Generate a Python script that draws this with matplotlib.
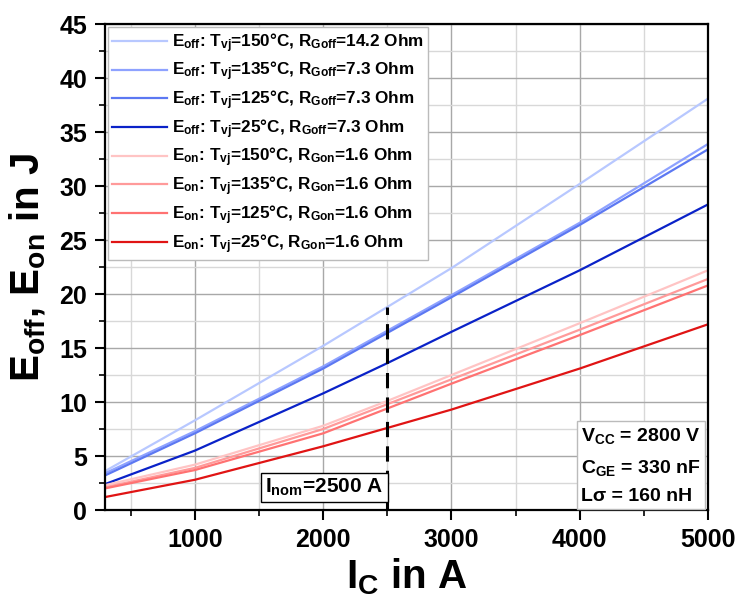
import matplotlib
matplotlib.use("Agg")
import matplotlib.pyplot as plt
from matplotlib.ticker import MultipleLocator

plt.rcParams['font.family'] = ['Liberation Sans', 'DejaVu Sans']
plt.rcParams['font.weight'] = 'bold'
plt.rcParams['axes.labelweight'] = 'bold'
plt.rcParams['mathtext.fontset'] = 'custom'
plt.rcParams['mathtext.rm'] = 'Liberation Sans:bold'
plt.rcParams['mathtext.bf'] = 'Liberation Sans:bold'
plt.rcParams['mathtext.it'] = 'Liberation Sans:bold'

# collector current in A
current = [300, 1000, 2000, 2500, 3000, 4000, 5000]

# switching energies in J
eoff_150 = [3.6, 8.3, 15.2, 18.8, 22.4, 30.2, 38.1]
eoff_135 = [3.4, 7.3, 13.3, 16.6, 19.9, 26.6, 33.9]
eoff_125 = [3.2, 7.1, 13.1, 16.4, 19.7, 26.4, 33.4]
eoff_25 = [2.4, 5.5, 10.8, 13.6, 16.5, 22.2, 28.3]
eon_150 = [2.3, 4.2, 7.8, 10.1, 12.5, 17.3, 22.2]
eon_135 = [2.1, 3.9, 7.5, 9.8, 12.1, 16.7, 21.4]
eon_125 = [2.0, 3.7, 7.1, 9.4, 11.7, 16.2, 20.8]
eon_25 = [1.2, 2.8, 5.9, 7.6, 9.3, 13.1, 17.2]

i_nom = 2500
e_at_nom = 18.8

series = [
    (eoff_150, '#b8c8ff', r'E$_{\mathbf{off}}$: T$_{\mathbf{vj}}$=150°C, R$_{\mathbf{Goff}}$=14.2 Ohm'),
    (eoff_135, '#8ea2ff', r'E$_{\mathbf{off}}$: T$_{\mathbf{vj}}$=135°C, R$_{\mathbf{Goff}}$=7.3 Ohm'),
    (eoff_125, '#5c78f2', r'E$_{\mathbf{off}}$: T$_{\mathbf{vj}}$=125°C, R$_{\mathbf{Goff}}$=7.3 Ohm'),
    (eoff_25, '#0a22c8', r'E$_{\mathbf{off}}$: T$_{\mathbf{vj}}$=25°C, R$_{\mathbf{Goff}}$=7.3 Ohm'),
    (eon_150, '#ffc4c4', r'E$_{\mathbf{on}}$: T$_{\mathbf{vj}}$=150°C, R$_{\mathbf{Gon}}$=1.6 Ohm'),
    (eon_135, '#ff9a9a', r'E$_{\mathbf{on}}$: T$_{\mathbf{vj}}$=135°C, R$_{\mathbf{Gon}}$=1.6 Ohm'),
    (eon_125, '#ff7272', r'E$_{\mathbf{on}}$: T$_{\mathbf{vj}}$=125°C, R$_{\mathbf{Gon}}$=1.6 Ohm'),
    (eon_25, '#e01414', r'E$_{\mathbf{on}}$: T$_{\mathbf{vj}}$=25°C, R$_{\mathbf{Gon}}$=1.6 Ohm'),
]

fig = plt.figure(figsize=(7.36, 6.02), dpi=100)
ax = fig.add_axes([0.1427, 0.1528, 0.8193, 0.8072])

for values, color, label in series:
    ax.plot(current, values, color=color, lw=1.6, label=label)

ax.plot([i_nom, i_nom], [0, e_at_nom], color='black', lw=2.2, ls=(0, (5, 3)))

ax.set_xlim(300, 5000)
ax.set_ylim(0, 45)
ax.xaxis.set_major_locator(MultipleLocator(1000))
ax.xaxis.set_minor_locator(MultipleLocator(500))
ax.yaxis.set_major_locator(MultipleLocator(5))
ax.yaxis.set_minor_locator(MultipleLocator(2.5))
ax.grid(which='major', color='#a8a8a8', lw=1.0)
ax.grid(which='minor', color='#d8d8d8', lw=1.0)
ax.set_axisbelow(True)

ax.tick_params(which='major', direction='out', length=7, width=1.5, labelsize=18, pad=6)
ax.tick_params(which='minor', direction='out', length=4, width=1.2)
for sp in ax.spines.values():
    sp.set_linewidth(1.6)

ax.set_xlabel(r'I$_{\mathbf{C}}$ in A', fontsize=29, labelpad=3)
ax.set_ylabel(r'E$_{\mathbf{off}}$, E$_{\mathbf{on}}$ in J', fontsize=29, labelpad=8)

leg = ax.legend(loc='upper left', fontsize=12.3, frameon=True, fancybox=False,
                borderaxespad=0.15, handlelength=3.2, handletextpad=0.3,
                labelspacing=0.3, borderpad=0.25)
leg.get_frame().set_edgecolor('#bbbbbb')
leg.get_frame().set_linewidth(1.0)
leg.get_frame().set_alpha(1.0)

ax.text(0.988, 0.01, 'V$_{\\mathbf{CC}}$ = 2800 V\nC$_{\\mathbf{GE}}$ = 330 nF\nLσ = 160 nH',
        transform=ax.transAxes, ha='right', va='bottom', fontsize=14,
        linespacing=1.8, multialignment='left',
        bbox=dict(boxstyle='square,pad=0.2', fc='white', ec='#bbbbbb', lw=1.0))

ax.text(2470, 1.1, 'I$_{\\mathbf{nom}}$=2500 A', ha='right', va='bottom', fontsize=15,
        bbox=dict(boxstyle='square,pad=0.2', fc='white', ec='black', lw=1.0))

fig.savefig('out.png', dpi=100)
